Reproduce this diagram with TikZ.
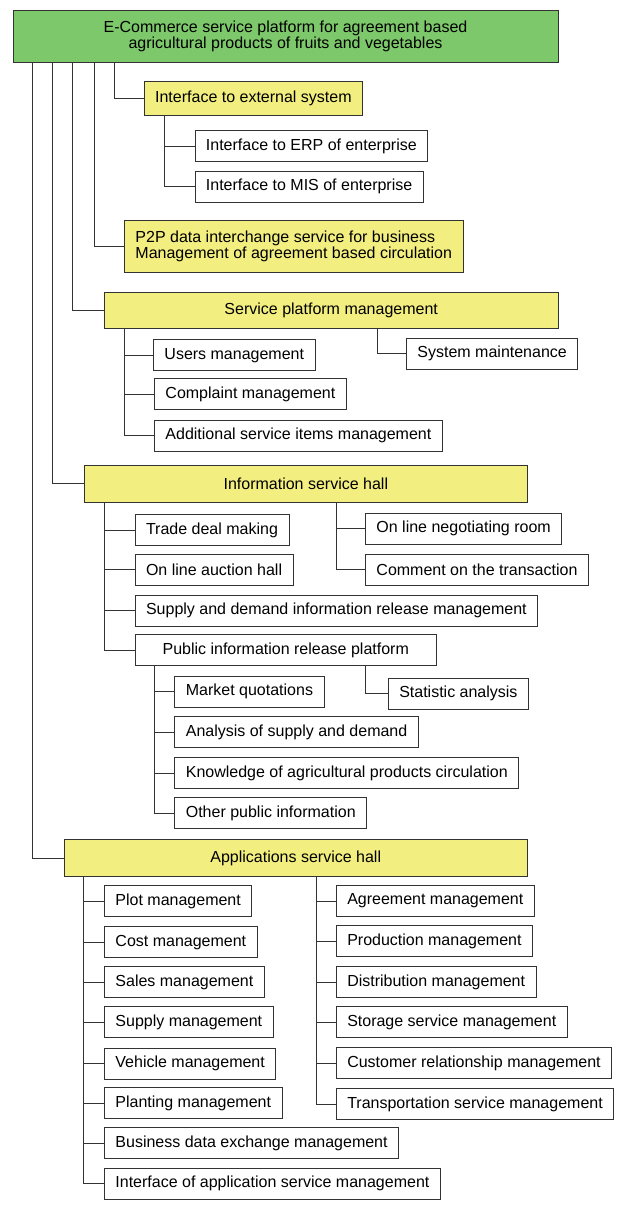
\documentclass[tikz,border=0pt]{standalone}
\usepackage{fontspec}
\setmainfont{Liberation Sans}
\usepackage{tikz}
\usetikzlibrary{calc}
\definecolor{rootgreen}{HTML}{7CC86A}
\definecolor{hallyellow}{HTML}{F2EE80}
\definecolor{linegray}{HTML}{333333}

\begin{document}
\begin{tikzpicture}[x=1pt,y=-1pt]
			\tikzstyle{every node}+=[font=\fontsize{16}{16}\selectfont]
			\tikzstyle{leaf}=[draw=linegray,line width=0.9pt,fill=white,inner xsep=11pt,inner ysep=0pt,minimum height=31pt,anchor=west]
			\tikzstyle{hall}=[draw=linegray,line width=0.9pt,fill=hallyellow,inner xsep=11pt,inner ysep=0pt,minimum height=36pt,anchor=west]
			\tikzstyle{link}=[draw=linegray,line width=0.9pt]
			\useasboundingbox (0,0) rectangle (619,1208);
			\node [draw=linegray,line width=0.9pt,fill=rootgreen,minimum width=545pt,minimum height=52pt,align=center] (root) at (285.5,36) {E-Commerce service platform for agreement based\\agricultural products of fruits and vegetables};
			\node [hall,minimum height=34pt] (ext) at (143.7,98.8) {Interface to external system};
			\node [leaf] (erp) at (194.5,146) {Interface to ERP of enterprise};
			\node [leaf] (mis) at (194.5,186.5) {Interface to MIS of enterprise};
			\node [hall,minimum height=52pt,align=left,font=\fontsize{16}{14.5}\selectfont] (p2p) at (124,246.7) {P2P data interchange service for business\\Management of agreement based circulation};
			\node [hall,minimum width=454.5pt] (spm) at (103.5,310.7) {Service platform management};
			\node [leaf] (usr) at (153,355.3) {Users management};
			\node [leaf] (sysm) at (406,353.8) {System maintenance};
			\node [leaf] (cmp) at (154,394) {Complaint management};
			\node [leaf] (add) at (154,435.5) {Additional service items management};
			\node [hall,minimum width=442.8pt,minimum height=37pt] (info) at (84,483.5) {Information service hall};
			\node [leaf] (trade) at (134.6,530) {Trade deal making};
			\node [leaf] (auct) at (134.6,569.7) {On line auction hall};
			\node [leaf] (nego) at (365,528.8) {On line negotiating room};
			\node [leaf] (comm) at (365,569.7) {Comment on the transaction};
			\node [leaf] (sdm) at (134.6,610.8) {Supply and demand information release management};
			\node [leaf,minimum width=301.4pt] (pub) at (134.6,650.3) {Public information release platform};
			\node [leaf] (stat) at (387.8,693.5) {Statistic analysis};
			\node [leaf] (mkt) at (174.4,691.7) {Market quotations};
			\node [leaf] (ana) at (174.4,732) {Analysis of supply and demand};
			\node [leaf] (know) at (174.4,773) {Knowledge of agricultural products circulation};
			\node [leaf] (oth) at (174.4,813) {Other public information};
			\node [hall,minimum width=463pt,minimum height=37pt] (app) at (63.8,858.3) {Applications service hall};
			\node [leaf] (plot) at (104,901) {Plot management};
			\node [leaf] (cost) at (104,942.3) {Cost management};
			\node [leaf] (sales) at (104,982.3) {Sales management};
			\node [leaf] (supp) at (104,1022.3) {Supply management};
			\node [leaf] (veh) at (104,1063.7) {Vehicle management};
			\node [leaf] (plant) at (104,1103) {Planting management};
			\node [leaf] (bde) at (104,1143) {Business data exchange management};
			\node [leaf] (iasm) at (104,1183.7) {Interface of application service management};
			\node [leaf] (agr) at (335.8,901) {Agreement management};
			\node [leaf] (prod) at (335.8,941) {Production management};
			\node [leaf] (dist) at (335.8,982.3) {Distribution management};
			\node [leaf] (stor) at (335.8,1022.3) {Storage service management};
			\node [leaf] (cust) at (335.8,1063) {Customer relationship management};
			\node [leaf] (trans) at (335.8,1104.3) {Transportation service management};
			\draw [link] ([xshift=102pt]root.south west) |- (ext.west);
			\draw [link] ([xshift=82pt]root.south west) |- (p2p.west);
			\draw [link] ([xshift=60pt]root.south west) |- (spm.west);
			\draw [link] ([xshift=40pt]root.south west) |- (info.west);
			\draw [link] ([xshift=20pt]root.south west) |- (app.west);
			\draw [link] ([xshift=20.6pt]ext.south west) |- (erp.west);
			\draw [link] ([xshift=20.6pt]ext.south west) |- (mis.west);
			\draw [link] ([xshift=20.5pt]spm.south west) |- (usr.west);
			\draw [link] ([xshift=20.5pt]spm.south west) |- (cmp.west);
			\draw [link] ([xshift=20.5pt]spm.south west) |- (add.west);
			\draw [link] ($(spm.south -| sysm.west)+(-29,0)$) |- (sysm.west);
			\draw [link] ([xshift=20.3pt]info.south west) |- (trade.west);
			\draw [link] ([xshift=20.3pt]info.south west) |- (auct.west);
			\draw [link] ([xshift=20.3pt]info.south west) |- (sdm.west);
			\draw [link] ([xshift=20.3pt]info.south west) |- (pub.west);
			\draw [link] ($(info.south -| nego.west)+(-29,0)$) |- (nego.west);
			\draw [link] ($(info.south -| nego.west)+(-29,0)$) |- (comm.west);
			\draw [link] ([xshift=20pt]pub.south west) |- (mkt.west);
			\draw [link] ([xshift=20pt]pub.south west) |- (ana.west);
			\draw [link] ([xshift=20pt]pub.south west) |- (know.west);
			\draw [link] ([xshift=20pt]pub.south west) |- (oth.west);
			\draw [link] ($(pub.south -| stat.west)+(-22.4,0)$) |- (stat.west);
			\draw [link] ([xshift=20pt]app.south west) |- (plot.west);
			\draw [link] ([xshift=20pt]app.south west) |- (cost.west);
			\draw [link] ([xshift=20pt]app.south west) |- (sales.west);
			\draw [link] ([xshift=20pt]app.south west) |- (supp.west);
			\draw [link] ([xshift=20pt]app.south west) |- (veh.west);
			\draw [link] ([xshift=20pt]app.south west) |- (plant.west);
			\draw [link] ([xshift=20pt]app.south west) |- (bde.west);
			\draw [link] ([xshift=20pt]app.south west) |- (iasm.west);
			\draw [link] ($(app.south -| agr.west)+(-19.8,0)$) |- (agr.west);
			\draw [link] ($(app.south -| agr.west)+(-19.8,0)$) |- (prod.west);
			\draw [link] ($(app.south -| agr.west)+(-19.8,0)$) |- (dist.west);
			\draw [link] ($(app.south -| agr.west)+(-19.8,0)$) |- (stor.west);
			\draw [link] ($(app.south -| agr.west)+(-19.8,0)$) |- (cust.west);
			\draw [link] ($(app.south -| agr.west)+(-19.8,0)$) |- (trans.west);
			\end{tikzpicture}
\end{document}
